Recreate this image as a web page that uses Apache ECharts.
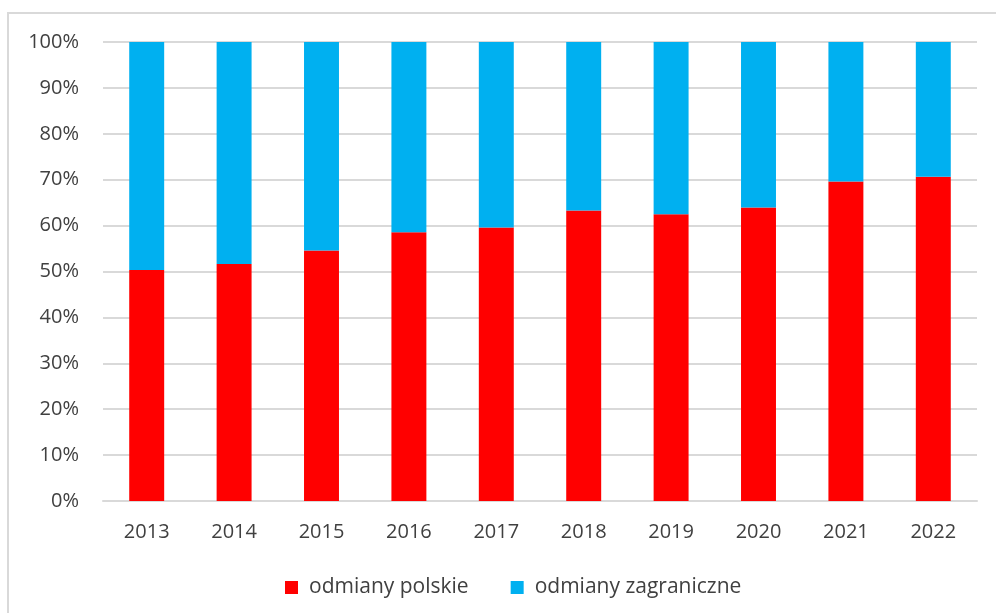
<!DOCTYPE html>
<html>
<head>
<meta charset="utf-8">
<script src="https://cdn.jsdelivr.net/npm/echarts@6/dist/echarts.min.js"></script>
<style>
  html, body { margin: 0; padding: 0; background: #fff; }
  #chart { width: 996px; height: 613px; }
</style>
</head>
<body>
<div id="chart"></div>
<script>
const years = ['2013', '2014', '2015', '2016', '2017', '2018', '2019', '2020', '2021', '2022']
const polskie = [50.35, 51.66, 54.6, 58.56, 59.56, 63.27, 62.48, 63.92, 69.63, 70.65]
const zagraniczne = [49.65, 48.34, 45.4, 41.44, 40.44, 36.73, 37.52, 36.08, 30.37, 29.35]
const seriesNames = ['odmiany polskie', 'odmiany zagraniczne']
const seriesColors = ['#ff0000', '#00b0f0']

const chart = echarts.init(document.getElementById('chart'))
const font = 'Open Sans, Liberation Sans, sans-serif'
const option = {
  animation: false,
  textStyle: { fontFamily: font },
  graphic: [{
    type: 'rect',
    shape: { x: 8, y: 13, width: 1000, height: 700 },
    style: { fill: 'none', stroke: '#d9d9d9', lineWidth: 2 },
    silent: true
  }],
  grid: { left: 103, right: 19, top: 42, bottom: 112 },
  legend: {
    left: 280,
    top: 572,
    icon: 'rect',
    itemWidth: 13,
    itemHeight: 13,
    itemGap: 42,
    textStyle: { fontSize: 21, color: '#404040', fontFamily: font, padding: [0, 0, 0, 6] },
    data: seriesNames
  },
  xAxis: {
    type: 'category',
    data: years,
    axisTick: { show: false },
    axisLine: { lineStyle: { color: '#d9d9d9', width: 2 } },
    axisLabel: { fontSize: 20, color: '#404040', margin: 21, fontFamily: font }
  },
  yAxis: {
    type: 'value',
    min: 0,
    max: 100,
    interval: 10,
    axisLabel: { formatter: '{value}%', fontSize: 20, color: '#404040', margin: 24, fontFamily: font },
    splitLine: { lineStyle: { color: '#d9d9d9', width: 2 } },
    axisLine: { show: false },
    axisTick: { show: false }
  },
  series: [
    {
      name: seriesNames[0],
      type: 'bar',
      stack: 'total',
      data: polskie,
      barWidth: '40%',
      itemStyle: { color: seriesColors[0] }
    },
    {
      name: seriesNames[1],
      type: 'bar',
      stack: 'total',
      data: zagraniczne,
      barWidth: '40%',
      itemStyle: { color: seriesColors[1] }
    }
  ]
}
chart.setOption(option)
</script>
</body>
</html>
